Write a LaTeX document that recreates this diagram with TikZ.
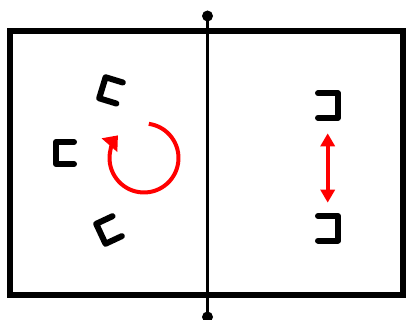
\documentclass[tikz,border=0pt]{standalone}
\usetikzlibrary{arrows.meta}
\tikzset{
  brk/.style={line width=6pt, line join=round, line cap=round},
  pics/cbrk/.style 2 args={code={\draw[brk] (#1/2,#2/2) -- (-#1/2,#2/2) -- (-#1/2,-#2/2) -- (#1/2,-#2/2);}},
  court/.style={line width=6pt},
  net/.style={line width=3pt},
  move/.style={red, line width=4pt}
}
\begin{document}
\begin{tikzpicture}[x=1pt,y=1pt]
\useasboundingbox (0,0) rectangle (406,320);
\draw[court] (10,24.5) rectangle (403,288.5);
\coordinate (ntop) at (207.5,304);
\coordinate (nbot) at (207.5,3);
\draw[net] (ntop) -- (nbot);
\fill (ntop) circle[radius=5.5];
\fill (nbot) circle[radius=5.5];
% left brackets
\pic[rotate=-17] at (111,229.6) {cbrk={18}{22}};
\pic at (65,167) {cbrk={18}{22}};
\pic[rotate=25] at (109,90) {cbrk={18}{22}};
% right brackets
\pic[rotate=180] at (328,214.5) {cbrk={20}{24.5}};
\pic[rotate=180] at (328,91.7) {cbrk={20}{24.5}};
% rotation arrow
\coordinate (rc) at (144,162);
\draw[move, -{Triangle[length=13pt,width=20pt]}] ([shift={(82:34.5)}]rc) arc[start angle=82, end angle=-221, radius=34.5];
% up-down arrow
\coordinate (da) at (327.7,186.7);
\coordinate (db) at (327.7,117.3);
\draw[move, {Triangle[length=13pt,width=14pt]}-{Triangle[length=13pt,width=14pt]}] (da) -- (db);
\end{tikzpicture}
\end{document}
